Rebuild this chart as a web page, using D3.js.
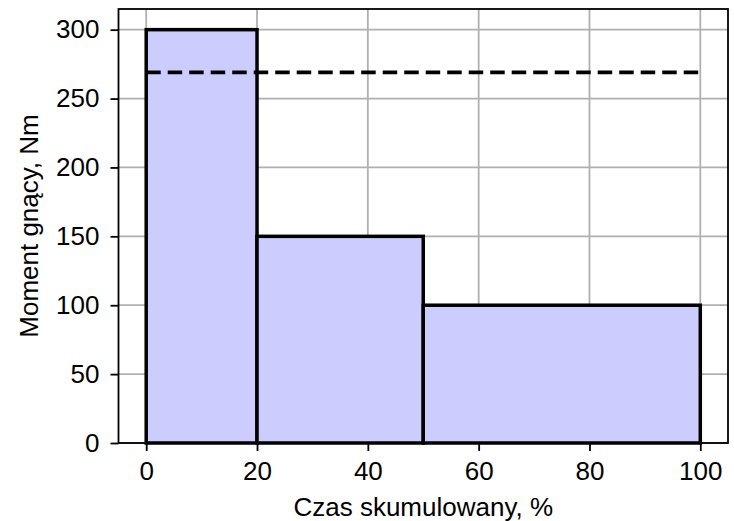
<!DOCTYPE html>
<html>
<head>
<meta charset="utf-8">
<title>Moment gnący</title>
<style>
  body { margin: 0; background: #fff; }
  svg { display: block; font-family: "Liberation Sans", Arial, sans-serif; }
</style>
</head>
<body>
<div id="chart"></div>
<script src="https://d3js.org/d3.v7.min.js"></script>
<script>
// bin edges in %, bending moment per bin, equivalent moment (dashed)
var binStart = [0, 20, 50];
var binEnd   = [20, 50, 100];
var moment   = [300, 150, 100];
var equivMoment = 269;
var xTicks = [0, 20, 40, 60, 80, 100];
var yTicks = [0, 50, 100, 150, 200, 250, 300];

var W = 734, H = 521;
var margin = {left: 118.5, right: 6, top: 9, bottom: 78};
var fontSize = "26px";

var svg = d3.select("#chart").append("svg")
    .attr("width", W).attr("height", H);

var x = d3.scaleLinear().domain([-5, 105]).range([margin.left, W - margin.right]);
var y = d3.scaleLinear().domain([0, 315]).range([H - margin.bottom, margin.top]);

// grid
svg.append("g").selectAll("line").data(xTicks).join("line")
    .attr("x1", d => x(d)).attr("x2", d => x(d))
    .attr("y1", y(315)).attr("y2", y(0))
    .attr("stroke", "#b0b0b0").attr("stroke-width", 1.8);
svg.append("g").selectAll("line").data(yTicks).join("line")
    .attr("y1", d => y(d)).attr("y2", d => y(d))
    .attr("x1", x(-5)).attr("x2", x(105))
    .attr("stroke", "#b0b0b0").attr("stroke-width", 1.8);

// bars
svg.append("g").selectAll("rect").data(moment).join("rect")
    .attr("x", (d, i) => x(binStart[i]))
    .attr("width", (d, i) => x(binEnd[i]) - x(binStart[i]))
    .attr("y", d => y(d))
    .attr("height", d => y(0) - y(d))
    .attr("fill", "#ccccff")
    .attr("stroke", "#000").attr("stroke-width", 3.5);

// equivalent moment line
svg.append("line")
    .attr("x1", x(0)).attr("x2", x(100))
    .attr("y1", y(equivMoment)).attr("y2", y(equivMoment))
    .attr("stroke", "#000").attr("stroke-width", 3.6)
    .attr("stroke-dasharray", "14.5,7");

// axes
var xAxis = svg.append("g")
    .attr("transform", "translate(0," + y(0) + ")")
    .call(d3.axisBottom(x).tickValues(xTicks).tickSize(8).tickPadding(11).tickSizeOuter(0));
var yAxis = svg.append("g")
    .attr("transform", "translate(" + x(-5) + ",0)")
    .call(d3.axisLeft(y).tickValues(yTicks).tickSize(8).tickPadding(11).tickSizeOuter(0));
[xAxis, yAxis].forEach(function(g) {
  g.select(".domain").remove();
  g.selectAll(".tick line").attr("stroke", "#000").attr("stroke-width", 1.8);
  g.selectAll(".tick text").attr("fill", "#000")
    .style("font-size", fontSize).style("font-family", "'Liberation Sans', Arial, sans-serif");
});

// frame
svg.append("rect")
    .attr("x", x(-5)).attr("y", y(315))
    .attr("width", x(105) - x(-5)).attr("height", y(0) - y(315))
    .attr("fill", "none").attr("stroke", "#000").attr("stroke-width", 1.8);

// labels
svg.append("text")
    .attr("x", (x(-5) + x(105)) / 2).attr("y", 516)
    .attr("text-anchor", "middle").style("font-size", fontSize)
    .text("Czas skumulowany, %");
svg.append("text")
    .attr("transform", "translate(38," + ((y(0) + y(315)) / 2) + ") rotate(-90)")
    .attr("text-anchor", "middle").style("font-size", fontSize)
    .text("Moment gnący, Nm");
</script>
</body>
</html>
